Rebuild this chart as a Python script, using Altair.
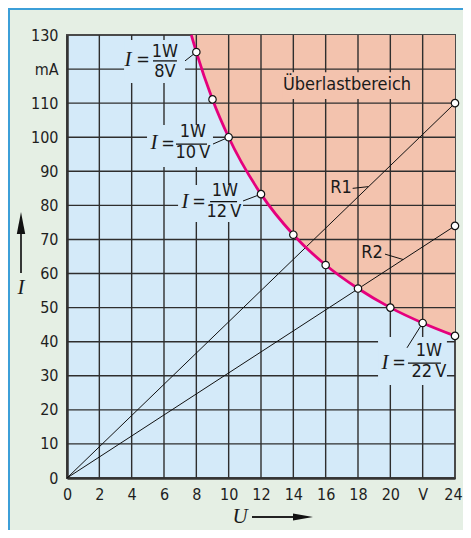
import altair as alt
import pandas as pd

# ---------------- data ----------------
# power hyperbola I = 1 W / U  (U in V, I in mA)
curve_U = [7.69, 8, 9, 10, 12, 14, 16, 18, 20, 22, 24]
curve_I = [130, 125, 111.1, 100, 83.3, 71.4, 62.5, 55.6, 50, 45.5, 41.7]
marker_U = [8, 9, 10, 12, 14, 16, 18, 20, 22, 24]
marker_I = [125, 111.1, 100, 83.3, 71.4, 62.5, 55.6, 50, 45.5, 41.7]

# resistor characteristics
res_name = ["R1", "R1", "R2", "R2"]
res_U = [0, 24, 0, 24]
res_I = [0, 110, 0, 74]
res_end_U = [24, 24]
res_end_I = [110, 74]

x_ticks = [0, 2, 4, 6, 8, 10, 12, 14, 16, 18, 20, 22, 24]
y_ticks = [0, 10, 20, 30, 40, 50, 60, 70, 80, 90, 100, 110, 120, 130]

frac_num = ["1W", "1W", "1W", "1W"]
frac_den = ["8V", "10\u2009V", "12\u2009V", "22\u2009V"]
region_label = "Überlastbereich"
res_labels = ["R1", "R2"]

# ---------------- styling ----------------
BG = "#E5EFE4"
BLUE = "#D4EAF9"
SALMON = "#F3C3AE"
MAGENTA = "#E5007D"
GRID = "#2e2e2e"
SANS = "DejaVu Sans Condensed"
SERIF = "Liberation Serif"

W, H = 388, 443

xs = alt.Scale(domain=[0, 24], nice=False, zero=False)
ys = alt.Scale(domain=[0, 130], nice=False, zero=False)
xaxis = alt.Axis(values=x_ticks, title=None, ticks=False, grid=False,
                 labelExpr="datum.value == 22 ? 'V' : datum.label",
                 labelOffset={"expr": "datum.value == 24 ? -2 : 0"},
                 labelFont=SANS, labelFontSize=16, labelColor="#1e1e1e",
                 labelPadding=8, labelFlush=False, labelOverlap=False,
                 domainColor="#333333", domainWidth=2.5)
yaxis = alt.Axis(values=y_ticks, title=None, ticks=False, grid=False,
                 labelExpr="datum.value == 120 ? 'mA' : datum.label",
                 labelFont=SANS, labelFontSize=16, labelColor="#1e1e1e",
                 labelPadding=9, labelFlush=False, labelOverlap=False,
                 domainColor="#333333", domainWidth=2.5)
X = alt.X("U:Q", scale=xs, axis=xaxis)
Y = alt.Y("I:Q", scale=ys, axis=yaxis)

curve_df = pd.DataFrame({"U": curve_U, "I": curve_I})
marker_df = pd.DataFrame({"U": marker_U + res_end_U, "I": marker_I + res_end_I})
res_df = pd.DataFrame({"name": res_name, "U": res_U, "I": res_I})

# overload region (above the hyperbola)
area = alt.Chart(curve_df).mark_area(color=SALMON, interpolate="monotone").encode(
    x=X, y=Y, y2=alt.datum(130))

# grid lines drawn as marks so they sit on top of the coloured regions
vgrid = alt.Chart(pd.DataFrame({"U": x_ticks[1:-1]})).mark_rule(
    color=GRID, strokeWidth=1.4).encode(x=X)
hgrid = alt.Chart(pd.DataFrame({"I": y_ticks[1:-1]})).mark_rule(
    color=GRID, strokeWidth=1.4).encode(y=Y)

# label backgrounds (hide the grid behind the annotations)
rect_df = pd.DataFrame({
    "U": [3.53, 4.95, 6.87, 19.24, 13.36],
    "U2": [7.30, 9.03, 10.89, 23.5, 21.34],
    "I": [128.5, 103.6, 86.0, 41.4, 119.1],
    "I2": [115.9, 91.3, 75.1, 27.3, 111.2],
    "fill": [BLUE, BLUE, BLUE, BLUE, SALMON],
})
rects = alt.Chart(rect_df).mark_rect().encode(
    x=X, x2="U2:Q", y=Y, y2="I2:Q", fill=alt.Fill("fill:N", scale=None))

res_lines = alt.Chart(res_df).mark_line(color="#111111", strokeWidth=1).encode(
    x=X, y=Y, detail="name:N")

curve = alt.Chart(curve_df).mark_line(color=MAGENTA, strokeWidth=2.8,
                                      interpolate="monotone").encode(x=X, y=Y)

leader_df = pd.DataFrame({
    "U": [7.30, 9.03, 10.89, 21.03, 17.67, 19.67],
    "U2": [8, 10, 12, 22, 18.64, 20.8],
    "I": [122.4, 98.0, 81.3, 38.2, 85.0, 65.7],
    "I2": [125, 100, 83.3, 45.5, 85.5, 64.1],
})
leaders = alt.Chart(leader_df).mark_rule(color="#111111", strokeWidth=1).encode(
    x=X, x2="U2:Q", y=Y, y2="I2:Q")

bar_df = pd.DataFrame({
    "U": [5.32, 6.74, 8.85, 21.09],
    "U2": [6.80, 8.66, 10.52, 23.13],
    "I": [122.4, 98.0, 81.1, 33.7],
})
bars = alt.Chart(bar_df).mark_rule(color="#111111", strokeWidth=1.3).encode(
    x=X, x2="U2:Q", y=Y)

points = alt.Chart(marker_df).mark_point(
    shape="circle", filled=True, fill="white", stroke="#111111",
    strokeWidth=1.2, size=55, opacity=1).encode(x=X, y=Y)

# formula texts
ital_df = pd.DataFrame({"U": [3.77, 5.38, 7.30, 19.67],
                        "I": [122.7, 98.3, 81.1, 33.7], "t": ["I"] * 4})
eq_df = pd.DataFrame({"U": [4.70, 6.25, 8.16, 20.54],
                      "I": [122.7, 98.0, 81.1, 33.7], "t": ["="] * 4})
num_df = pd.DataFrame({"U": [6.06, 7.79, 9.77, 22.39],
                       "I": [124.9, 101.4, 84.2, 37.2], "t": frac_num})
den_df = pd.DataFrame({"U": [6.06, 7.79, 9.71, 22.39],
                       "I": [119.1, 95.4, 78.1, 31.1], "t": frac_den})
lab_df = pd.DataFrame({"U": [17.32, 16.95, 18.87],
                       "I": [115.3, 85.1, 66.0],
                       "t": [region_label] + res_labels})

def txt(df, font, size, style="normal"):
    return alt.Chart(df).mark_text(font=font, fontSize=size, fontStyle=style,
                                   color="#1a1a1a", baseline="middle",
                                   align="center").encode(x=X, y=Y, text="t:N")

t_ital = txt(ital_df, SERIF, 21, "italic")
t_eq = txt(eq_df, SANS, 18)
t_num = txt(num_df, SANS, 18)
t_den = txt(den_df, SANS, 18)
t_lab = txt(lab_df, SANS, 18)

# axis titles with arrows (outside the plot area, pixel positioned)
one = pd.DataFrame({"a": [0]})
y_title = alt.Chart(one).mark_text(font=SERIF, fontSize=21, fontStyle="italic",
                                   color="#1a1a1a", baseline="middle").encode(
    x=alt.value(-46), y=alt.value(253), text=alt.value("I"))
y_shaft = alt.Chart(one).mark_rule(color="#222222", strokeWidth=1.8).encode(
    x=alt.value(-46), y=alt.value(196), y2=alt.value(238))
y_head = alt.Chart(one).mark_point(shape="M0,-1L0.38,1L-0.38,1Z", filled=True,
                                   color="#111111", size=484, opacity=1).encode(
    x=alt.value(-46), y=alt.value(188))
x_title = alt.Chart(one).mark_text(font=SERIF, fontSize=21, fontStyle="italic",
                                   color="#1a1a1a", baseline="middle").encode(
    x=alt.value(173), y=alt.value(482), text=alt.value("U"))
x_shaft = alt.Chart(one).mark_rule(color="#222222", strokeWidth=1.8).encode(
    x=alt.value(185), x2=alt.value(228), y=alt.value(482))
x_head = alt.Chart(one).mark_point(shape="M1,0L-1,-0.35L-1,0.35Z", filled=True,
                                   color="#111111", size=400, opacity=1).encode(
    x=alt.value(236), y=alt.value(482))

# frame lines of the figure box
frame_l = alt.Chart(one).mark_rule(color="#3C9FD8", strokeWidth=2).encode(
    x=alt.value(-58), y=alt.value(-27), y2=alt.value(H + 52))
frame_t = alt.Chart(one).mark_rule(color="#3C9FD8", strokeWidth=2).encode(
    x=alt.value(-59), x2=alt.value(W + 8), y=alt.value(-26))

chart = alt.layer(
    area, vgrid, hgrid, rects, res_lines, curve, leaders, bars, points,
    t_ital, t_eq, t_num, t_den, t_lab,
    y_title, y_shaft, y_head, x_title, x_shaft, x_head, frame_l, frame_t,
).properties(
    width=W, height=H,
    autosize=alt.AutoSizeParams(type="none"),
    padding={"left": 59, "top": 27, "right": 8, "bottom": 52},
    background=BG,
).configure_view(fill=BLUE, stroke="#4a4a4a", strokeWidth=2)

chart.save("out.html", embed_options={"renderer": "svg", "actions": False})
